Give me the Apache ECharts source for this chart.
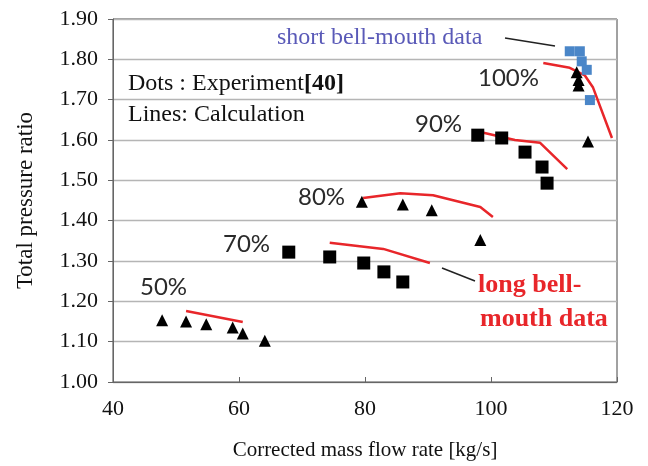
<!DOCTYPE html>
<html>
<head>
<meta charset="utf-8">
<script src="https://cdn.jsdelivr.net/npm/echarts@6/dist/echarts.min.js"></script>
<style>
html, body { margin: 0; padding: 0; background: #fff; }
#main { width: 648px; height: 466px; }
</style>
</head>
<body>
<div id="main"></div>
<script>
// experiment (dots)
var exp50 = [[47.8, 1.153], [51.6, 1.150], [54.8, 1.143], [59.0, 1.135], [60.6, 1.120], [64.1, 1.102]];
var exp70 = [[67.9, 1.322], [74.4, 1.310], [79.8, 1.295], [83.0, 1.273], [86.0, 1.248]];
var exp80 = [[79.5, 1.447], [86.0, 1.440], [90.6, 1.426], [98.3, 1.352]];
var exp90 = [[97.9, 1.612], [101.7, 1.605], [105.4, 1.570], [108.1, 1.533], [108.9, 1.493]];
var exp100 = [[113.6, 1.768], [113.9, 1.749], [113.9, 1.735], [115.4, 1.596]];
var expShort = [[112.5, 1.820], [114.1, 1.820], [114.4, 1.795], [115.2, 1.774], [115.7, 1.699]];
// calculation (lines)
var calc50 = [[51.6, 1.176], [60.6, 1.149]];
var calc70 = [[74.4, 1.345], [82.9, 1.330], [90.3, 1.295]];
var calc80 = [[79.7, 1.456], [85.6, 1.468], [90.8, 1.463], [98.3, 1.434], [100.3, 1.409]];
var calc90 = [[98.3, 1.620], [103.8, 1.600], [107.8, 1.593], [112.1, 1.528]];
var calc100 = [[108.3, 1.791], [112.5, 1.779], [114.9, 1.760], [116.2, 1.730], [119.2, 1.605]];

var serif = '"Liberation Serif", "Times New Roman", serif';
var red = '#e8262a';
var pctFont = '24px Lato, "Liberation Sans", sans-serif';

function lineSeries(d) {
	return {
		type: 'line', data: d, symbol: 'none', z: 3,
		lineStyle: {color: red, width: 2.5}
	};
}
function dotSeries(d, sym, size, color) {
	return {
		type: 'scatter', data: d, symbol: sym, symbolSize: size, z: 4,
		itemStyle: {color: color || '#000', opacity: 1}
	};
}
function label(x, y, txt, font, fill) {
	return {
		type: 'text', x: x, y: y, z: 10,
		style: {text: txt, font: font, fill: fill || '#111', verticalAlign: 'middle'}
	};
}

var myChart = echarts.init(document.getElementById('main'));
option = {
	animation: false,
	backgroundColor: '#fff',
	grid: {
		left: 113, right: 31, top: 19, bottom: 84,
		show: true, borderColor: '#444', borderWidth: 1
	},
	xAxis: {
		type: 'value', min: 40, max: 120, interval: 20,
		name: 'Corrected mass flow rate [kg/s]',
		nameLocation: 'middle', nameGap: 58,
		nameTextStyle: {fontFamily: serif, fontSize: 21, color: '#111'},
		axisLine: {lineStyle: {color: '#666'}},
		axisTick: {inside: true, length: 5, lineStyle: {color: '#666'}},
		axisLabel: {fontFamily: serif, fontSize: 22, color: '#111', margin: 16},
		splitLine: {show: false}
	},
	yAxis: {
		type: 'value', min: 1.0, max: 1.9, interval: 0.1,
		name: 'Total pressure ratio',
		nameLocation: 'middle', nameGap: 76,
		nameTextStyle: {fontFamily: serif, fontSize: 23, color: '#111'},
		axisLine: {show: true, lineStyle: {color: '#666'}},
		axisTick: {show: true, length: 5, lineStyle: {color: '#666'}},
		axisLabel: {
			fontFamily: serif, fontSize: 22, color: '#111', margin: 15,
			formatter: function (v) { return v.toFixed(2); }
		},
		splitLine: {lineStyle: {color: '#b5b5b5', width: 1.3}}
	},
	graphic: [
		label(277, 38, 'short bell-mouth data', '24px ' + serif, '#5a5ab8'),
		{type: 'line', shape: {x1: 505, y1: 38, x2: 555, y2: 46}, style: {stroke: '#222', lineWidth: 1.5}},
		{type: 'text', x: 128, y: 84, z: 10, style: {
			rich: {
				a: {font: '24px ' + serif, fill: '#111'},
				b: {font: 'bold 24px ' + serif, fill: '#111'}
			},
			text: '{a|Dots : Experiment}{b|[40]}',
			verticalAlign: 'middle'
		}},
		label(128, 115, 'Lines: Calculation', '24px ' + serif),
		label(478, 78, '100%', pctFont, '#2a2a2a'),
		label(415, 124, '90%', pctFont, '#2a2a2a'),
		label(298, 197, '80%', pctFont, '#2a2a2a'),
		label(223, 244, '70%', pctFont, '#2a2a2a'),
		label(140, 287, '50%', pctFont, '#2a2a2a'),
		{type: 'line', shape: {x1: 442, y1: 268, x2: 475, y2: 281}, style: {stroke: '#222', lineWidth: 1.5}},
		label(478, 285, 'long bell-', 'bold 26px ' + serif, red),
		label(480, 319, 'mouth data', 'bold 26px ' + serif, red)
	],
	series: [
		lineSeries(calc50),
		lineSeries(calc70),
		lineSeries(calc80),
		lineSeries(calc90),
		lineSeries(calc100),
		dotSeries(exp50, 'triangle', 12),
		dotSeries(exp70, 'rect', 13),
		dotSeries(exp80, 'triangle', 12),
		dotSeries(exp90, 'rect', 13),
		dotSeries(exp100, 'triangle', 12),
		dotSeries(expShort, 'rect', 10, '#4a86c8')
	]
};
myChart.setOption(option);
</script>
</body>
</html>
